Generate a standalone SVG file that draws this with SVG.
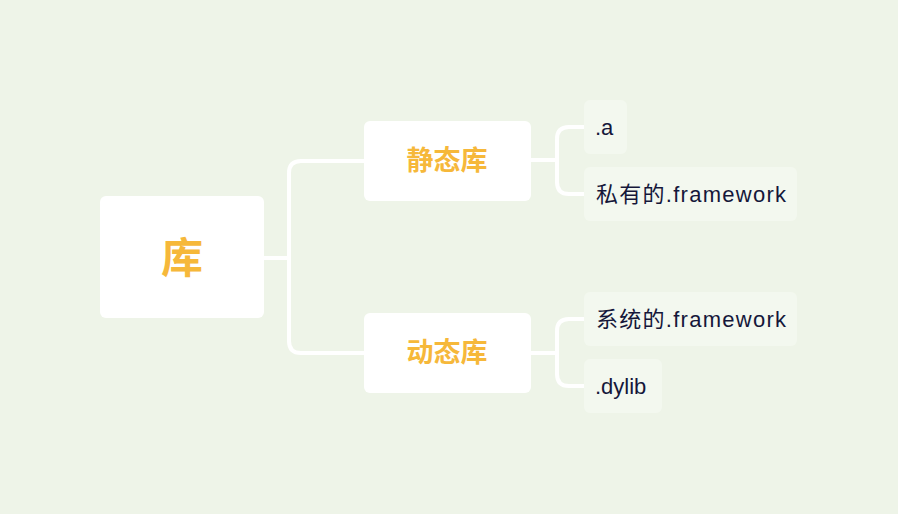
<svg xmlns="http://www.w3.org/2000/svg" width="898" height="514" viewBox="0 0 898 514">
<style>
.box{fill:#ffffff}
.leaf{fill:#f3f8ef}
.t{font-family:"Liberation Sans","Noto Sans CJK SC",sans-serif;text-anchor:middle;dominant-baseline:central;font-weight:bold}
.main{fill:#f6b83a}
.lt{font-family:"Liberation Sans","Noto Sans CJK SC",sans-serif;font-size:22px;fill:#15173a;dominant-baseline:central}
.c{fill:none;stroke:#ffffff;stroke-width:4}
</style>
<rect width="898" height="514" fill="#eef4e8"/>
<g id="connectors">
<path class="c" d="M263 258 H289 M364 161 H301 Q289 161 289 173 V341 Q289 353 301 353 H364"/>
<path class="c" d="M530 160 H557 M584 127 H569 Q557 127 557 139 V182 Q557 194 569 194 H584"/>
<path class="c" d="M530 353 H557 M584 319 H569 Q557 319 557 331 V374 Q557 386 569 386 H584"/>
</g>
<g id="root"><rect class="box" x="100" y="196" width="164" height="122" rx="6"/><text class="t main" x="182" y="258" font-size="42" font-weight="normal">库</text></g>
<g id="static"><rect class="box" x="364" y="121" width="167" height="80" rx="6"/><text class="t main" x="447" y="161" font-size="27">静态库</text></g>
<g id="dynamic"><rect class="box" x="364" y="313" width="167" height="80" rx="6"/><text class="t main" x="447" y="353" font-size="27">动态库</text></g>
<g id="leaf-a"><rect class="leaf" x="584" y="100" width="43" height="54" rx="6"/><text class="lt" x="595" y="127">.a</text></g>
<g id="leaf-private"><rect class="leaf" x="584" y="167" width="213" height="54" rx="6"/><text class="lt" x="596" y="194" textLength="190">私有的.framework</text></g>
<g id="leaf-system"><rect class="leaf" x="584" y="292" width="213" height="54" rx="6"/><text class="lt" x="596" y="319" textLength="190">系统的.framework</text></g>
<g id="leaf-dylib"><rect class="leaf" x="584" y="359" width="78" height="54" rx="6"/><text class="lt" x="595" y="386">.dylib</text></g>
</svg>
